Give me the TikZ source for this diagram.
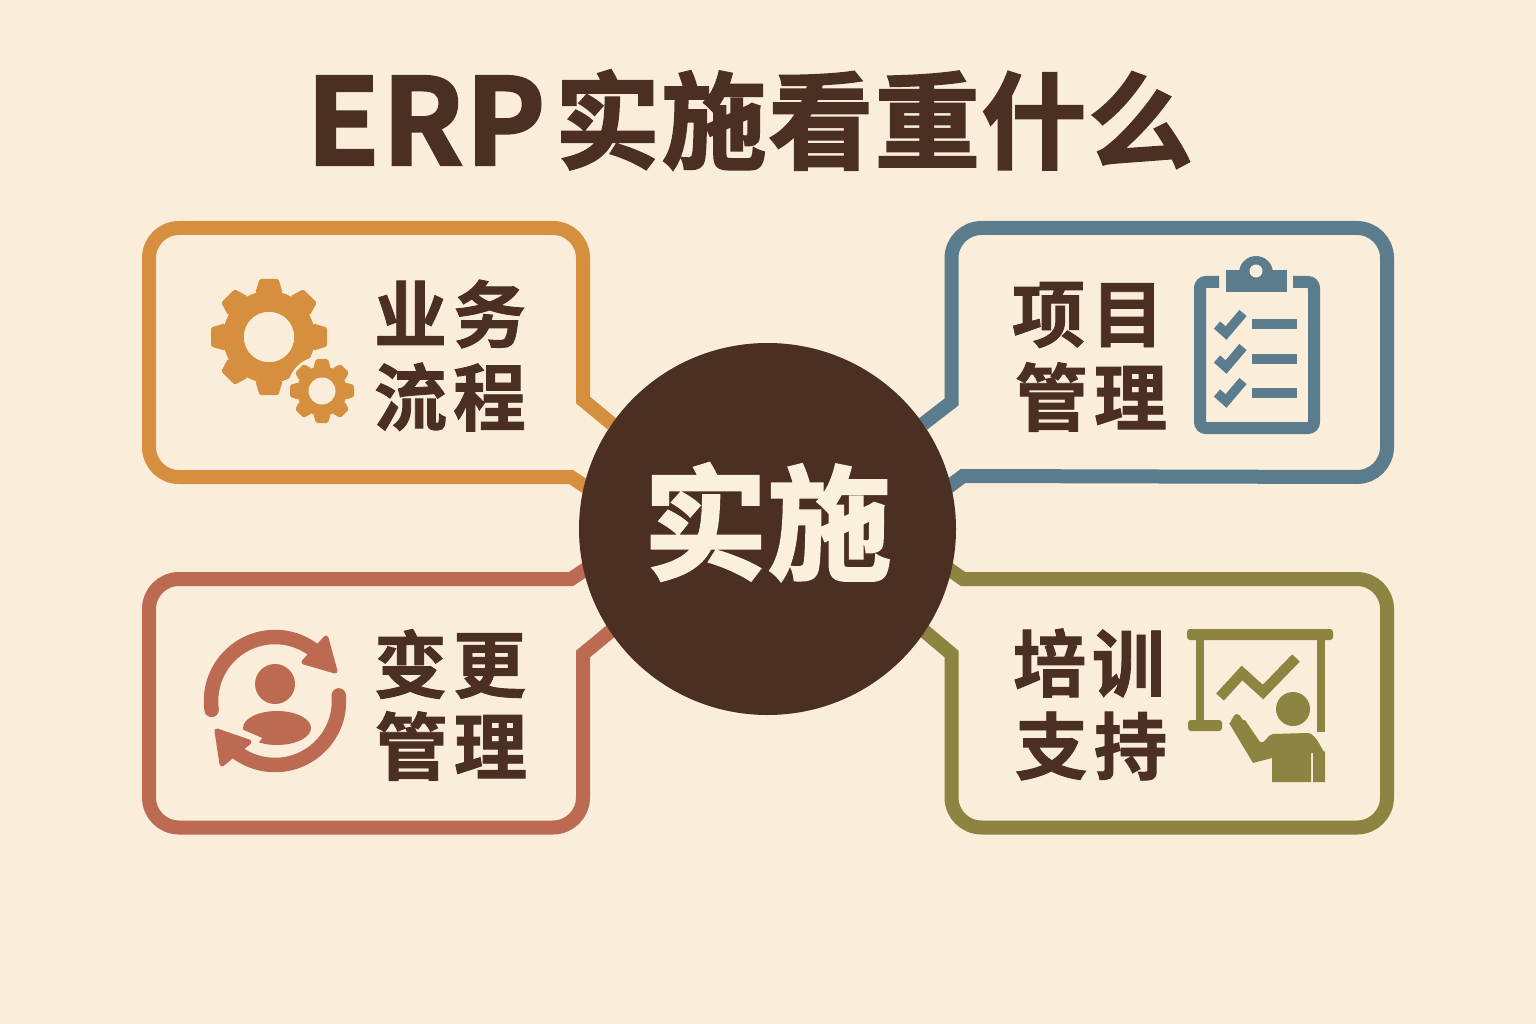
\documentclass[tikz,border=0pt]{standalone}
\usepackage{fontspec}
\usetikzlibrary{shapes.geometric}
\newfontfamily\cjkb[BoldFont={Noto Sans CJK SC Bold},BoldFeatures={FakeBold=1.2}]{Noto Sans CJK SC}
\newfontfamily\cjkh[BoldFont={Noto Sans CJK SC Bold},BoldFeatures={FakeBold=2.0}]{Noto Sans CJK SC}
\definecolor{bgc}{HTML}{FAEEDB}
\definecolor{ink}{HTML}{4A2F22}
\definecolor{cream}{HTML}{FBF0DC}
\definecolor{orangec}{HTML}{D68F3E}
\definecolor{bluec}{HTML}{5B7C8D}
\definecolor{redc}{HTML}{BC6B52}
\definecolor{olivec}{HTML}{8E8442}
\tikzset{
  bubble/.style={line width=14pt,line join=miter},
  lab/.style={text=ink,inner sep=0pt,font=\cjkb\bfseries\fontsize{73}{73}\selectfont},
}
\newcommand\gapx{\hspace{6pt}}
\newcommand\geardraw[6]{% cx cy outer root hole toothw
  \foreach \a in {0,45,...,315}{
    \fill[orangec,rounded corners=1.5pt,shift={(#1,#2)},rotate=\a] (#3,-#6*0.5) -- (#3,#6*0.5) -- (#4-2,#6*0.72) -- (#4-2,-#6*0.72) -- cycle;
  }
  \fill[orangec] (#1,#2) circle[radius=#4];
  \fill[bgc] (#1,#2) circle[radius=#5];
}
\begin{document}
\begin{tikzpicture}[x=1pt,y=-1pt]
\fill[bgc] (0,0) rectangle (1536,1024);
\useasboundingbox (0,0) rectangle (1536,1024);
% title
\node[inner sep=0pt,anchor=base west,text=ink,font=\cjkh\bfseries\fontsize{120}{120}\selectfont] (titlea) at (306,165) {\addfontfeature{LetterSpace=1.5}ERP};
\node[inner sep=0pt,anchor=center,text=ink,font=\cjkh\bfseries\fontsize{105}{105}\selectfont] (titleb) at (874,120) {\addfontfeature{LetterSpace=1.5}实施看重什么};
% bubbles
\draw[bubble,orangec] (612,424) -- (583,400) -- (583,258) arc[start angle=0,end angle=-90,radius=30] -- (179,228) arc[start angle=-90,end angle=-180,radius=30] -- (149,447) arc[start angle=180,end angle=90,radius=30] -- (571,477) -- (592,491);
\draw[bubble,bluec] (923,424) -- (951.5,402) -- (951.5,258) arc[start angle=180,end angle=270,radius=30] -- (1357,228) arc[start angle=-90,end angle=0,radius=30] -- (1387,447) arc[start angle=0,end angle=90,radius=30] -- (963,476) -- (943,491);
\draw[bubble,redc] (612,630) -- (583,654) -- (583,797.5) arc[start angle=0,end angle=90,radius=30] -- (179,827.5) arc[start angle=90,end angle=180,radius=30] -- (149,609) arc[start angle=180,end angle=270,radius=30] -- (571,579) -- (592,565);
\draw[bubble,olivec] (923,630) -- (951.5,654) -- (951.5,797.5) arc[start angle=180,end angle=90,radius=30] -- (1357,827.5) arc[start angle=90,end angle=0,radius=30] -- (1387,609) arc[start angle=0,end angle=-90,radius=30] -- (963,579) -- (943,565);
% hub
\node[ellipse,fill=ink,minimum width=377pt,minimum height=372pt,inner sep=0pt] (hub) at (767.5,529) {};
\node[text=cream,inner sep=0pt,font=\cjkh\bfseries\fontsize{124}{124}\selectfont] (hubtext) at (767.5,522) {实施};
% labels
\node[lab] (l1a) at (450,314) {业\gapx 务};
\node[lab] (l1b) at (450,397) {流\gapx 程};
\node[lab] (l2a) at (1088,315) {项\gapx 目};
\node[lab] (l2b) at (1091,397) {管\gapx 理};
\node[lab] (l3a) at (450,664) {变\gapx 更};
\node[lab] (l3b) at (451,746) {管\gapx 理};
\node[lab] (l4a) at (1089,663) {培\gapx 训};
\node[lab] (l4b) at (1091,746) {支\gapx 持};
% gears
\geardraw{269}{337}{58}{46}{25}{19}
\fill[bgc] (322,391) circle[radius=35];
\geardraw{322}{391}{32}{25}{13.5}{12}
\fill[bgc] (269,337) circle[radius=25];
% clipboard
\begin{scope}[bluec]
\draw[line width=12pt,rounded corners=6pt] (1219,282) -- (1200,282) -- (1200,428) -- (1314,428) -- (1314,282) -- (1293,282);
\fill (1226,270) rectangle (1287,292);
\fill (1256,273) circle[radius=17];
\fill[bgc] (1256,271) circle[radius=6.5];
\foreach \dy/\yy in {0/324,34/359,68/393}{
  \draw[line width=9.5pt] (1217,325+\dy) -- (1226,333+\dy) -- (1243,313+\dy);
  \fill (1252,\yy-5) rectangle (1297,\yy+5);
}
\end{scope}
% cycle icon
\begin{scope}[redc]
\fill (275,684) circle[radius=20];
\fill (277,728) ellipse[x radius=34,y radius=17];
\draw[line width=14.5pt,line cap=round] plot[domain=172:318,samples=50] ({275+64*cos(\x)},{701+64*sin(\x)});
\fill[bgc] (225,722) -- (262,738) -- (252,752) -- (232,760) -- cycle;
\draw[line width=14.5pt,line cap=round] plot[domain=-5:128,samples=50] ({275+64*cos(\x)},{701+64*sin(\x)});
\filldraw[line width=5pt,line join=round] (217,731) -- (222,764) -- (249,742) -- cycle;
\filldraw[line width=5pt,line join=round] (326,638) -- (335,671) -- (304,662) -- cycle;
\end{scope}
% presentation icon
\begin{scope}[olivec]
\fill[rounded corners=3pt] (1187,629) rectangle (1333,640);
\fill (1196,640) rectangle (1204,722);
\fill[rounded corners=3pt] (1188,720) rectangle (1222,731);
\fill (1317,640) rectangle (1325,732);
\draw[line width=10.5pt,line join=miter] (1220,697) -- (1242,673) -- (1263,692) -- (1296,658);
\fill (1293,709) circle[radius=17];
\fill[line join=round] (1229,723) to[out=-85,in=180] (1237,714) to[out=0,in=-120] (1245,720) -- (1260,742) to[out=-30,in=180] (1273,734) -- (1308,733) to[out=0,in=-90] (1325,750) -- (1325,782) -- (1313,782) -- (1313,753) -- (1311,753) -- (1311,782) -- (1272,782) -- (1272,758) -- (1253,763) -- cycle;
\end{scope}
\end{tikzpicture}
\end{document}
